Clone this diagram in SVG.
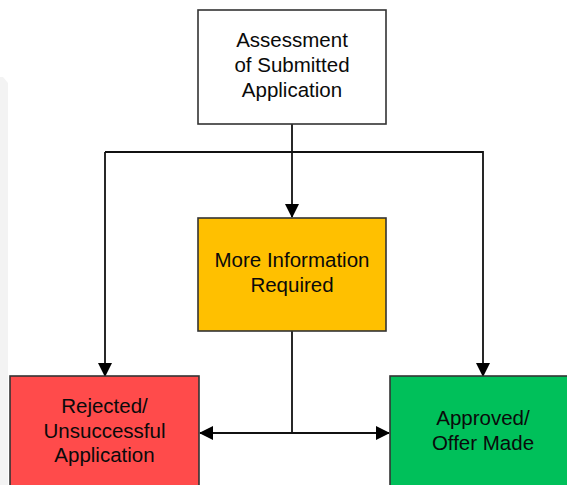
<svg xmlns="http://www.w3.org/2000/svg" width="567" height="485" viewBox="0 0 567 485">
<style>
.box{stroke:#333;stroke-width:1.6}
.lbl{font-family:"Liberation Sans",Arial,sans-serif;font-size:20.5px;fill:#0a0a0a;text-anchor:middle}
.ln{stroke:#111;stroke-width:1.8;fill:none}
</style>
<defs>
<marker id="ah" viewBox="0 0 14 14" refX="13" refY="7" markerWidth="14" markerHeight="14" markerUnits="userSpaceOnUse" orient="auto">
<path d="M0,0 L14,7 L0,14 Z" fill="#000"/>
</marker>
</defs>
<rect width="567" height="485" fill="#fff"/>
<path d="M0,77 L3,77 L8,83 L8,485 L0,485 Z" fill="#f3f3f3"/>
<g id="connectors">
<line class="ln" x1="292" y1="124" x2="292" y2="217" marker-end="url(#ah)"/>
<polyline class="ln" points="105,152 483,152 483,376" marker-end="url(#ah)"/>
<line class="ln" x1="105" y1="152" x2="105" y2="376" marker-end="url(#ah)"/>
<line class="ln" x1="292" y1="331" x2="292" y2="433"/>
<line class="ln" x1="292" y1="433" x2="200" y2="433" marker-end="url(#ah)"/>
<line class="ln" x1="292" y1="433" x2="389" y2="433" marker-end="url(#ah)"/>
</g>
<g id="assessment">
<rect class="box" x="198" y="10" width="188" height="114" fill="#fff"/>
<text class="lbl" x="292" y="47">Assessment</text>
<text class="lbl" x="292" y="72">of Submitted</text>
<text class="lbl" x="292" y="97">Application</text>
</g>
<g id="more-info">
<rect class="box" x="198" y="218" width="188" height="113" fill="#ffc000"/>
<text class="lbl" x="292" y="267">More Information</text>
<text class="lbl" x="292" y="292">Required</text>
</g>
<g id="rejected">
<rect class="box" x="10" y="376" width="189" height="115" fill="#ff4b4b"/>
<text class="lbl" x="104.5" y="413">Rejected/</text>
<text class="lbl" x="104.5" y="438">Unsuccessful</text>
<text class="lbl" x="104.5" y="462">Application</text>
</g>
<g id="approved">
<rect class="box" x="390" y="376" width="190" height="115" fill="#00c05a"/>
<text class="lbl" x="483" y="425">Approved/</text>
<text class="lbl" x="483" y="450">Offer Made</text>
</g>
</svg>
